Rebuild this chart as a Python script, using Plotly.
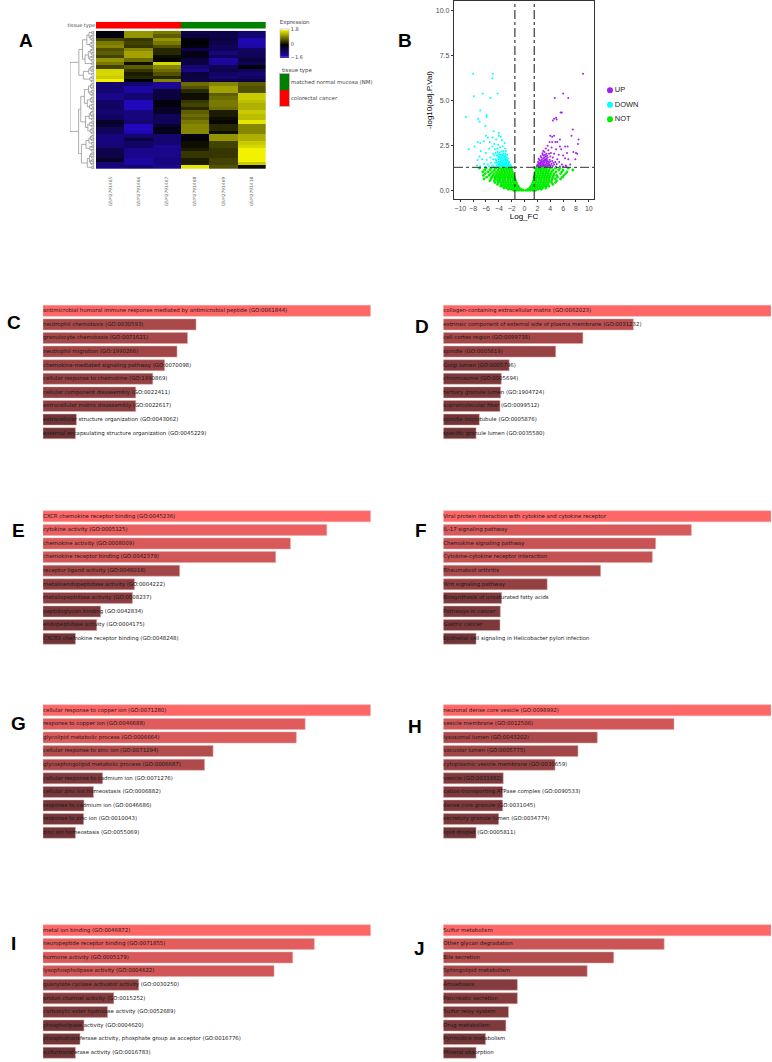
import plotly.graph_objects as go

W, H = 772, 1062

# ---------- heatmap data ----------
samples = ["GSM2791465", "GSM2791466", "GSM2791467", "GSM2791468", "GSM2791469", "GSM2791418"]
expression = [
    [-.1, 1.1, .9, -.6, -.6, -.9], [-.1, 1.1, .7, -.5, -.6, -.9], [.5, .4, 1.1, -.1, -.5, -1.4],
    [.9, .5, .9, -.05, -.6, -1.4], [1.0, .4, .6, -.1, -.7, -1.3], [.6, 1.0, .3, -.6, -.7, -.8],
    [.7, 1.2, .3, -.2, -1.0, -.7], [.5, 1.2, .1, -.2, -.7, -.7], [1.1, .8, 0, -.5, -1.3, -.5],
    [.9, .1, 1.6, -.5, -1.2, -.7], [.5, .7, 1.0, -.9, -.7, -.1], [1.6, .4, .8, -1.1, -.6, -.7],
    [1.6, .2, .6, -.5, -.8, -.9], [1.5, .3, .3, -.5, -.9, -.8], [1.8, 0, 1.0, -.6, -.6, -.6],
    [-.9, -.9, -1.2, .8, 1.0, .7], [-.9, -1.3, -1.2, .6, 1.2, .6], [-.9, -1.3, -.5, .3, 1.2, .6],
    [-1.1, -.9, -.5, .1, .7, 1.5], [-1.1, -.9, -.5, .1, .8, 1.5], [-.8, -1.5, -.1, .4, .9, 1.4],
    [-.8, -1.5, -.1, .5, .9, 1.3], [-.8, -1.5, -.3, .3, .8, 1.3], [-.9, -1.0, -.3, .7, .2, 1.5],
    [-.8, -1.0, -.7, .8, .2, 1.4], [-.8, -1.0, -.7, .7, .1, 1.4], [-.3, -.9, -.7, .9, .05, 1.7],
    [-.4, -1.5, -.4, 1.0, .3, 1.0], [-.7, -1.5, -.2, 1.0, .3, 1.0], [-.7, -1.4, -.2, 1.0, .1, 1.0],
    [-1.0, -.9, -.9, -.1, 1.1, 1.3], [-1.0, -.5, -.9, -.1, 1.1, 1.3], [-1.0, -.8, -.9, .1, .5, 1.5],
    [-.9, -.8, -1.2, .1, .5, 1.6], [-.6, -1.1, -1.1, .2, .4, 1.8], [-.6, -1.1, -1.1, .4, .4, 1.8],
    [-.6, -1.1, -1.1, .4, .4, 1.8], [-.3, -1.3, -1.0, .2, .5, 1.8], [-1.0, -1.3, -1.0, .2, .5, 1.5],
    [-1.0, -.9, -1.1, 1.7, .6, .1],
]
tissue_codes = [0, 0, 0, 1, 1, 1]
tissue_names = ["matched normal mucosa (NM)", "colorectal cancer"]
L = 0
row_tree = [1.0,
    [.59,
        [.42, [.22, [.12, L, [.06, L, L]], [.07, L, L]], [.3, [.15, [.06, L, L], [.08, L, L]], L]],
        [.38, [.13, [.06, L, L], L], [.07, L, L]]],
    [.6,
        [.5, [.33, [.14, [.05, L, L], [.07, L, L]], [.2, [.06, L, L], [.09, L, L]]],
             [.28, [.11, [.05, L, L], L], [.17, [.08, L, L], [.06, L, L]]]],
        [.47, [.26, [.12, [.05, L, L], L], [.08, L, L]], [.2, [.1, [.04, L, L], [.05, L, L]], L]]],
]

# ---------- volcano data ----------
up_points = [(9.1, 6.5), (6.0, 5.4), (4.7, 5.15), (6.8, 5.15), (5.6, 4.35), (5.8, 4.35), (4.6, 4.0), (4.9, 4.05), (5.0, 3.95), (4.4, 3.9),
    (7.5, 3.4), (8.4, 2.85), (7.3, 3.05), (5.5, 2.85), (4.0, 3.05), (4.3, 3.0), (4.6, 3.05), (3.9, 2.7), (4.3, 2.7), (4.8, 2.7), (5.1, 2.7),
    (8.3, 2.6), (6.3, 2.45), (6.7, 2.45), (5.5, 2.45), (3.6, 2.5), (3.3, 2.35), (3.7, 2.25), (4.2, 2.4), (4.9, 2.3), (5.7, 2.3), (6.6, 2.1),
    (7.6, 2.15), (8.0, 2.1), (8.2, 2.05), (2.9, 2.2), (3.1, 2.15), (3.4, 2.05), (3.8, 2.05), (4.1, 2.1), (4.6, 2.05), (5.3, 2.0), (6.0, 1.95),
    (2.8, 2.0), (3.0, 1.95), (3.3, 1.9), (3.6, 1.85), (4.0, 1.9), (4.4, 1.85), (5.1, 1.75), (6.3, 1.8), (6.8, 1.75), (7.9, 1.75),
    (2.6, 1.85), (2.9, 1.8), (3.2, 1.75), (3.5, 1.7), (3.9, 1.72), (4.3, 1.65), (4.8, 1.6), (5.4, 1.6), (2.3, 1.7), (2.6, 1.65), (2.8, 1.62),
    (3.1, 1.6), (3.4, 1.58), (3.8, 1.55), (4.2, 1.5), (4.6, 1.45), (5.0, 1.48), (5.8, 1.45), (6.4, 1.4), (7.1, 1.45), (2.1, 1.6), (2.3, 1.55),
    (2.5, 1.5), (2.8, 1.48), (3.0, 1.45), (3.3, 1.46), (3.6, 1.42), (3.9, 1.4), (4.4, 1.38), (4.9, 1.35), (5.5, 1.35), (6.0, 1.35), (6.5, 1.34),
    (2.0, 1.45), (2.2, 1.42), (2.4, 1.38), (2.7, 1.36), (3.0, 1.35), (3.3, 1.34), (3.6, 1.34), (4.0, 1.33), (1.9, 1.36), (2.1, 1.34), (2.3, 1.33),
    (2.6, 1.32), (2.9, 1.32), (3.2, 1.32), (3.5, 1.38), (2.4, 1.68), (2.2, 1.78), (3.0, 1.68), (3.4, 1.78), (4.0, 1.62), (4.5, 1.55),
    (2.2, 1.5), (2.4, 1.45), (2.6, 1.42), (2.8, 1.42), (3.0, 1.52), (3.2, 1.4), (3.4, 1.52), (3.6, 1.5), (3.8, 1.47), (4.1, 1.42),
    (2.0, 1.38), (2.2, 1.36), (2.5, 1.35), (2.7, 1.56), (2.9, 1.38), (3.1, 1.38), (3.3, 1.4), (3.5, 1.62), (3.7, 1.4), (3.7, 1.62),
    (2.5, 1.58), (2.7, 1.74), (2.9, 1.62), (3.1, 1.7), (3.3, 1.66), (2.5, 1.92), (3.1, 1.84), (3.5, 1.94), (2.8, 2.08), (3.2, 2.0)]
down_points = [(-8.0, 6.5), (-4.9, 6.5), (-5.0, 6.25), (-6.5, 5.4), (-4.2, 5.4), (-7.9, 5.25), (-5.3, 5.15), (-6.9, 4.45), (-9.1, 4.1), (-5.9, 4.2),
    (-5.9, 4.1), (-7.2, 4.0), (-7.0, 3.85), (-6.1, 3.6), (-4.8, 3.3), (-4.0, 3.2), (-4.0, 3.05), (-3.7, 3.0), (-6.0, 3.05), (-5.7, 2.95), (-5.0, 2.95),
    (-4.4, 2.85), (-3.5, 2.8), (-3.1, 2.65), (-8.7, 2.3), (-7.3, 2.7), (-7.8, 2.45), (-6.9, 2.65), (-6.3, 2.75), (-5.4, 2.7), (-4.7, 2.6), (-4.1, 2.55),
    (-6.8, 2.2), (-6.0, 2.1), (-5.5, 2.35), (-5.0, 2.45), (-4.6, 2.3), (-4.2, 2.35), (-3.8, 2.4), (-3.4, 2.45), (-3.0, 2.35), (-2.9, 2.2),
    (-7.0, 1.9), (-7.3, 1.7), (-6.6, 1.75), (-5.9, 1.7), (-5.3, 1.85), (-4.9, 2.05), (-4.5, 2.1), (-4.2, 2.15), (-3.9, 2.12), (-3.6, 2.18), (-3.3, 2.2),
    (-3.0, 2.05), (-2.7, 2.0), (-4.7, 1.95), (-4.3, 1.95), (-4.0, 1.9), (-3.7, 1.95), (-3.4, 1.98), (-3.1, 1.88), (-2.8, 1.85), (-2.6, 1.78),
    (-7.4, 1.4), (-6.9, 1.35), (-6.3, 1.5), (-5.7, 1.45), (-5.2, 1.55), (-4.9, 1.75), (-4.5, 1.75), (-4.1, 1.75), (-3.8, 1.72), (-3.5, 1.78), (-3.2, 1.75),
    (-2.9, 1.7), (-2.6, 1.65), (-2.4, 1.6), (-5.0, 1.4), (-4.6, 1.55), (-4.3, 1.58), (-4.0, 1.6), (-3.7, 1.58), (-3.4, 1.6), (-3.1, 1.58), (-2.8, 1.55),
    (-2.5, 1.5), (-2.2, 1.45), (-6.1, 1.33), (-5.5, 1.34), (-4.8, 1.34), (-4.4, 1.4), (-4.1, 1.45), (-3.8, 1.46), (-3.5, 1.45), (-3.2, 1.44), (-2.9, 1.42),
    (-2.6, 1.38), (-2.3, 1.35), (-2.0, 1.33), (-4.2, 1.33), (-3.9, 1.35), (-3.6, 1.34), (-3.3, 1.33), (-3.0, 1.33), (-2.7, 1.32), (-2.4, 1.32),
    (-2.2, 1.34), (-3.2, 1.52), (-2.9, 1.52), (-3.6, 1.68), (-3.9, 1.52), (-3.0, 1.66), (-2.7, 1.46), (-2.5, 1.42), (-3.4, 1.36), (-3.1, 1.36),
    (-3.8, 1.62), (-3.5, 1.52), (-3.3, 1.66), (-2.9, 1.6), (-2.7, 1.64), (-2.5, 1.58), (-3.7, 1.4), (-3.5, 1.38), (-3.3, 1.42), (-3.0, 1.48),
    (-2.8, 1.38), (-2.6, 1.46), (-2.4, 1.42), (-2.1, 1.38), (-2.9, 1.36), (-3.6, 1.88), (-3.3, 1.84), (-3.0, 1.78), (-2.8, 1.72), (-3.8, 1.82),
    (-4.1, 1.84), (-4.4, 1.66), (-4.2, 1.5), (-4.0, 1.4), (-3.5, 2.02), (-3.2, 1.96), (-2.9, 1.94), (-3.8, 2.0), (-4.1, 2.02), (-3.3, 2.08)]
not_rows = [
    (.02, [-1.7, -1.3, -.9, -.5, -.2, .2, .5, .9, 1.3, 1.7]),
    (.08, [-2.5, -2.1, -1.7, -1.3, -.9, -.5, .5, .9, 1.3, 1.7, 2.1, 2.6]),
    (.15, [-3.2, -2.8, -2.4, -2.0, -1.6, -1.2, -.8, .8, 1.2, 1.6, 2.0, 2.4, 2.8, 3.3]),
    (.25, [-3.7, -3.4, -3.0, -2.6, -2.2, -1.8, -1.4, -1.0, 1.0, 1.4, 1.8, 2.2, 2.6, 3.0, 3.4, 3.8]),
    (.35, [-4.2, -3.6, -3.2, -2.8, -2.4, -2.0, -1.6, -1.2, 1.2, 1.6, 2.0, 2.4, 2.8, 3.2, 3.6, 4.4]),
    (.45, [-4.6, -4.1, -3.7, -3.3, -2.9, -2.5, -2.1, -1.7, -1.3, 1.3, 1.7, 2.1, 2.5, 2.9, 3.3, 3.7, 4.2, 4.8]),
    (.55, [-5.4, -4.7, -4.2, -3.8, -3.4, -3.0, -2.6, -2.2, -1.8, -1.4, 1.4, 1.8, 2.2, 2.6, 3.0, 3.4, 3.8, 4.2, 5.0]),
    (.65, [-6.3, -5.2, -4.6, -4.2, -3.8, -3.4, -3.0, -2.6, -2.2, -1.8, -1.5, 1.5, 1.8, 2.2, 2.6, 3.0, 3.4, 3.8, 4.3, 4.8, 5.6]),
    (.75, [-5.9, -5.1, -4.6, -4.2, -3.8, -3.4, -3.0, -2.6, -2.2, -1.9, -1.6, 1.5, 1.9, 2.3, 2.7, 3.1, 3.5, 3.9, 4.4, 5.1, 5.9]),
    (.85, [-6.4, -5.5, -4.9, -4.4, -4.0, -3.6, -3.2, -2.8, -2.4, -2.1, -1.7, 1.6, 2.0, 2.4, 2.8, 3.2, 3.6, 4.0, 4.5, 5.0, 6.1]),
    (.95, [-6.1, -5.3, -4.7, -4.2, -3.8, -3.4, -3.0, -2.6, -2.2, -1.8, 1.7, 2.1, 2.5, 2.9, 3.3, 3.7, 4.1, 4.6, 5.6, 6.4]),
    (1.05, [-6.5, -5.7, -5.0, -4.4, -3.9, -3.5, -3.1, -2.7, -2.3, -1.9, 1.7, 2.1, 2.5, 2.9, 3.3, 3.7, 4.2, 4.9, 5.8, 6.6]),
    (1.15, [-6.2, -5.4, -4.7, -4.1, -3.6, -3.2, -2.8, -2.4, -2.0, 1.8, 2.2, 2.6, 3.0, 3.4, 3.8, 4.4, 5.3, 6.0, 7.5]),
    (1.25, [-7.0, -6.0, -5.2, -4.5, -3.9, -3.4, -2.9, -2.5, -2.1, 1.8, 2.2, 2.6, 3.0, 3.4, 4.0, 4.8, 5.5, 6.8]),
]
fc_cutoff = 1.5
sig_cutoff = 1.3
volcano_groups = ["UP", "DOWN", "NOT"]
volcano_colors = ["#a020f0", "#00ffff", "#00ee00"]

# ---------- enrichment data ----------
c_terms = ["antimicrobial humoral immune response mediated by antimicrobial peptide (GO:0061844)", "neutrophil chemotaxis (GO:0030593)",
    "granulocyte chemotaxis (GO:0071621)", "neutrophil migration (GO:1990266)", "chemokine-mediated signaling pathway (GO:0070098)",
    "cellular response to chemokine (GO:1990869)", "cellular component disassembly (GO:0022411)", "extracellular matrix disassembly (GO:0022617)",
    "extracellular structure organization (GO:0043062)", "external encapsulating structure organization (GO:0045229)"]
c_vals = [1, .467, .441, .409, .371, .335, .283, .283, .102, .099]
d_terms = ["collagen-containing extracellular matrix (GO:0062023)", "extrinsic component of external side of plasma membrane (GO:0031232)",
    "cell cortex region (GO:0099738)", "spindle (GO:0005819)", "Golgi lumen (GO:0005796)", "chromosome (GO:0005694)",
    "tertiary granule lumen (GO:1904724)", "supramolecular fiber (GO:0099512)", "spindle microtubule (GO:0005876)", "specific granule lumen (GO:0035580)"]
d_vals = [1, .580, .426, .343, .201, .177, .175, .173, .110, .100]
e_terms = ["CXCR chemokine receptor binding (GO:0045236)", "cytokine activity (GO:0005125)", "chemokine activity (GO:0008009)",
    "chemokine receptor binding (GO:0042379)", "receptor ligand activity (GO:0048018)", "metalloendopeptidase activity (GO:0004222)",
    "metallopeptidase activity (GO:0008237)", "peptidoglycan binding (GO:0042834)", "endopeptidase activity (GO:0004175)", "CXCR3 chemokine receptor binding (GO:0048248)"]
e_vals = [1, .866, .755, .710, .417, .279, .273, .176, .164, .099]
f_terms = ["Viral protein interaction with cytokine and cytokine receptor", "IL-17 signaling pathway", "Chemokine signaling pathway",
    "Cytokine-cytokine receptor interaction", "Rheumatoid arthritis", "Wnt signaling pathway", "Biosynthesis of unsaturated fatty acids",
    "Pathways in cancer", "Gastric cancer", "Epithelial cell signaling in Helicobacter pylori infection"]
f_vals = [1, .757, .648, .638, .480, .317, .178, .174, .173, .100]
g_terms = ["cellular response to copper ion (GO:0071280)", "response to copper ion (GO:0046688)", "glycolipid metabolic process (GO:0006664)",
    "cellular response to zinc ion (GO:0071294)", "glycosphingolipid metabolic process (GO:0006687)", "cellular response to cadmium ion (GO:0071276)",
    "cellular zinc ion homeostasis (GO:0006882)", "response to cadmium ion (GO:0046686)", "response to zinc ion (GO:0010043)", "zinc ion homeostasis (GO:0055069)"]
g_vals = [1, .800, .773, .519, .493, .182, .154, .125, .124, .099]
h_terms = ["neuronal dense core vesicle (GO:0098992)", "vesicle membrane (GO:0012506)", "lysosomal lumen (GO:0043202)", "vacuolar lumen (GO:0005775)",
    "cytoplasmic vesicle membrane (GO:0030659)", "vesicle (GO:0031982)", "cation-transporting ATPase complex (GO:0090533)",
    "dense core granule (GO:0031045)", "secretory granule lumen (GO:0034774)", "lipid droplet (GO:0005811)"]
h_vals = [1, .704, .470, .411, .341, .183, .181, .181, .169, .100]
i_terms = ["metal ion binding (GO:0046872)", "neuropeptide receptor binding (GO:0071855)", "hormone activity (GO:0005179)",
    "lysophospholipase activity (GO:0004622)", "guanylate cyclase activator activity (GO:0030250)", "proton channel activity (GO:0015252)",
    "carboxylic ester hydrolase activity (GO:0052689)", "phospholipase activity (GO:0004620)",
    "phosphotransferase activity, phosphate group as acceptor (GO:0016776)", "sulfurtransferase activity (GO:0016783)"]
i_vals = [1, .828, .762, .705, .292, .216, .197, .125, .113, .099]
j_terms = ["Sulfur metabolism", "Other glycan degradation", "Bile secretion", "Sphingolipid metabolism", "Amoebiasis", "Pancreatic secretion",
    "Sulfur relay system", "Drug metabolism", "Pyrimidine metabolism", "Mineral absorption"]
j_vals = [1, .674, .520, .439, .226, .226, .199, .191, .129, .100]

panel_letters = ["A", "B", "C", "D", "E", "F", "G", "H", "I", "J"]

# ---------- layout helpers ----------
def xdom(a, b):
    return [a / W, b / W]

def ydom(top, bottom):
    return [1 - bottom / H, 1 - top / H]

hidden = dict(showgrid=False, zeroline=False, showticklabels=False, ticks="", showline=False)
fig = go.Figure()
layout = {}

def set_axes(n, xd, yd, xa, ya):
    layout[f"xaxis{n}"] = dict(domain=xd, anchor=f"y{n}", **xa)
    layout[f"yaxis{n}"] = dict(domain=yd, anchor=f"x{n}", **ya)

# main heatmap
BLUE_YELLOW = [[0, "#2408c8"], [1.6 / 3.4, "#000000"], [1, "#f2f200"]]
row_ids = list(range(len(expression)))
fig.add_trace(go.Heatmap(z=expression, x=samples, y=row_ids, zmin=-1.6, zmax=1.8, colorscale=BLUE_YELLOW, xaxis="x", yaxis="y",
    hoverinfo="skip", colorbar=dict(title=dict(text="Expression", side="top", font=dict(size=5.5, color="#444", family="DejaVu Sans")),
        x=280 / W, xanchor="left", xpad=0, y=1 - 17.5 / H, yanchor="top", ypad=0, lenmode="pixels", len=39.5, thicknessmode="pixels", thickness=9,
        tickvals=[1.8, 0, -1.6], ticktext=["1.8", "0", "\u22121.6"], tickfont=dict(size=5, color="#444", family="DejaVu Sans"),
        ticks="", outlinewidth=0.5, outlinecolor="#aaa")))
layout["xaxis"] = dict(domain=xdom(96, 265.7), anchor="y", showgrid=False, zeroline=False, tickangle=-90, ticks="outside", ticklen=5,
    tickcolor="rgba(0,0,0,0)", tickfont=dict(size=4.4, color="#666", family="DejaVu Sans"), showline=False)
layout["yaxis"] = dict(domain=ydom(30.7, 169), anchor="x", autorange="reversed", **hidden)

# annotation bar
fig.add_trace(go.Heatmap(z=[tissue_codes], x=samples, y=["tissue type"], zmin=0, zmax=1, showscale=False, hoverinfo="skip",
    colorscale=[[0, "#ff0000"], [1, "#008000"]], xaxis="x2", yaxis="y2"))
set_axes(2, xdom(96, 265.7), ydom(21.7, 28.7), hidden, dict(hidden, showticklabels=True, tickfont=dict(size=5, color="#444", family="DejaVu Sans"), ticklen=0))

# row dendrogram (tree heights sit above a small band of leaf twigs)
TWIG = .12
dx, dy = [], []
leaf = [0]
def walk(node):
    if node == L:
        row = float(leaf[0])
        leaf[0] += 1
        dx.extend([0, TWIG / 2, TWIG / 2, 0, None, TWIG / 2, TWIG, TWIG, 0, None])
        dy.extend([row - .33, row - .33, row, row, None, row - .16, row - .16, row + .33, row + .33, None])
        return TWIG, row
    ha, ya = walk(node[1])
    hb, yb = walk(node[2])
    h = TWIG + (1 - TWIG) * node[0]
    dx.extend([ha, h, h, hb, None])
    dy.extend([ya, ya, yb, yb, None])
    return h, (ya + yb) / 2
walk(row_tree)
fig.add_trace(go.Scatter(x=dx, y=dy, mode="lines", line=dict(color="#8a8a8a", width=0.7), hoverinfo="skip", showlegend=False, xaxis="x3", yaxis="y3"))
set_axes(3, xdom(70, 94.5), ydom(30.7, 169), dict(hidden, range=[1.0, 0]), dict(hidden, range=[len(expression) - .5, -.5]))

# tissue legend swatches
fig.add_trace(go.Heatmap(z=[[1], [0]], y=tissue_names, zmin=0, zmax=1, showscale=False, hoverinfo="skip",
    colorscale=[[0, "#ff0000"], [1, "#008000"]], xaxis="x4", yaxis="y4"))
set_axes(4, xdom(280, 289), ydom(74, 106), dict(hidden, showline=True, mirror=True, linecolor="#bbb", linewidth=0.6),
    dict(hidden, autorange="reversed", showticklabels=True, side="right", ticks="", tickfont=dict(size=5.4, color="#444", family="DejaVu Sans"),
         showline=True, mirror=True, linecolor="#bbb", linewidth=0.6))

# volcano
def scatter(pts, color, name, size):
    fig.add_trace(go.Scatter(x=[p[0] for p in pts], y=[p[1] for p in pts], mode="markers", name=name, showlegend=False, hoverinfo="skip",
        marker=dict(color=color, size=size, line=dict(width=0)), xaxis="x5", yaxis="y5"))
scatter(up_points, volcano_colors[0], "UP", 2)
scatter(down_points, volcano_colors[1], "DOWN", 2)
scatter([(x, r[0]) for r in not_rows for x in r[1]], volcano_colors[2], "NOT", 2.8)
tick_font = dict(size=7, color="#4d4d4d", family="Liberation Sans")
frame = dict(showgrid=False, zeroline=False, showline=True, mirror=True, linecolor="#333", linewidth=1.3, ticks="outside", ticklen=2, tickwidth=0.7, tickcolor="#333", tickfont=tick_font)
set_axes(5, xdom(454, 594), ydom(1, 199),
    dict(frame, range=[-10.97, 10.8], tickvals=list(range(-10, 11, 2)), title=dict(text="Log_FC", standoff=0, font=dict(size=8, family="Liberation Sans", color="#000"))),
    dict(frame, range=[-.46, 10.54], tickvals=[0, 2.5, 5, 7.5, 10], ticktext=["0.0", "2.5", "5.0", "7.5", "10.0"],
         title=dict(text="-log10(adj.P.Val)", standoff=2, font=dict(size=8, family="Liberation Sans", color="#000"))))
shapes = [
    dict(type="line", xref="x5", yref="y5 domain", x0=-fc_cutoff, x1=-fc_cutoff, y0=0, y1=1, line=dict(color="#111", width=1, dash="dashdot")),
    dict(type="line", xref="x5", yref="y5 domain", x0=fc_cutoff, x1=fc_cutoff, y0=0, y1=1, line=dict(color="#111", width=1, dash="dashdot")),
    dict(type="line", xref="x5 domain", yref="y5", x0=0, x1=1, y0=sig_cutoff, y1=sig_cutoff, line=dict(color="#333", width=1, dash="dashdot")),
]

# volcano key drawn as a small axes so that dot and label sit close together
fig.add_trace(go.Scatter(x=[0, 0, 0], y=volcano_groups, mode="markers+text", text=volcano_groups, textposition="middle right", hoverinfo="skip", showlegend=False,
    marker=dict(color=volcano_colors, size=6, line=dict(width=0)), textfont=dict(size=7.5, family="Liberation Sans", color="#222"), xaxis="x14", yaxis="y14", cliponaxis=False))
set_axes(14, xdom(605, 660), ydom(83, 126.5), dict(hidden, range=[-5, 50]), dict(hidden, type="category", range=[2.5, -.5]))

# enrichment bars
LEFT = (43, 370.7)
RIGHT = (443.3, 771)
panels = [
    (c_terms, c_vals, LEFT, 304), (d_terms, d_vals, RIGHT, 304),
    (e_terms, e_vals, LEFT, 509.5), (f_terms, f_vals, RIGHT, 509.5),
    (g_terms, g_vals, LEFT, 703.5), (h_terms, h_vals, RIGHT, 703.5),
    (i_terms, i_vals, LEFT, 923.5), (j_terms, j_vals, RIGHT, 923.5),
]
BAR_SCALE = [[0, "#602f32"], [1, "#ff6666"]]
for k, (terms, vals, (x0, x1), top) in enumerate(panels):
    n = 6 + k
    ranks = list(range(len(terms)))
    fig.add_trace(go.Bar(x=vals, y=ranks, orientation="h", width=0.81, hoverinfo="skip", showlegend=False,
        marker=dict(color=vals, cmin=0, cmax=1, colorscale=BAR_SCALE, line=dict(color="rgba(225,170,170,0.65)", width=0.8)),
        xaxis=f"x{n}", yaxis=f"y{n}"))
    fig.add_trace(go.Scatter(x=[0] * len(terms), y=ranks, text=terms, mode="text", textposition="middle right", hoverinfo="skip", showlegend=False, cliponaxis=False,
        textfont=dict(size=5.4, color="#1a1a1a", family="DejaVu Sans"), xaxis=f"x{n}", yaxis=f"y{n}"))
    set_axes(n, xdom(x0, x1), ydom(top, top + 136), dict(hidden, range=[0, 1]), dict(hidden, range=[9.5, -.5]))

# panel letters
letter_xy = [(26, 41), (405, 41), (14, 323), (422, 326), (18, 530), (421, 530), (18, 723), (415, 726), (14, 943), (419, 948)]
annotations = [dict(text=t, x=p[0] / W, y=1 - p[1] / H, xref="paper", yref="paper", showarrow=False, xanchor="center", yanchor="middle",
    font=dict(size=19, color="#000", family="Liberation Sans"), ) for t, p in zip([f"<b>{c}</b>" for c in panel_letters], letter_xy)]
annotations.append(dict(text="tissue type", x=280 / W, y=1 - 70 / H, xref="paper", yref="paper", showarrow=False, xanchor="left", yanchor="middle",
    font=dict(size=5.4, color="#444", family="DejaVu Sans")))

fig.update_layout(width=W, height=H, margin=dict(l=0, r=0, t=0, b=0), paper_bgcolor="white", plot_bgcolor="white", shapes=shapes, annotations=annotations,
    barmode="overlay", showlegend=False, **layout)
fig.write_html("out.html", config={"displayModeBar": False}, post_script="document.body.style.margin='0';")
